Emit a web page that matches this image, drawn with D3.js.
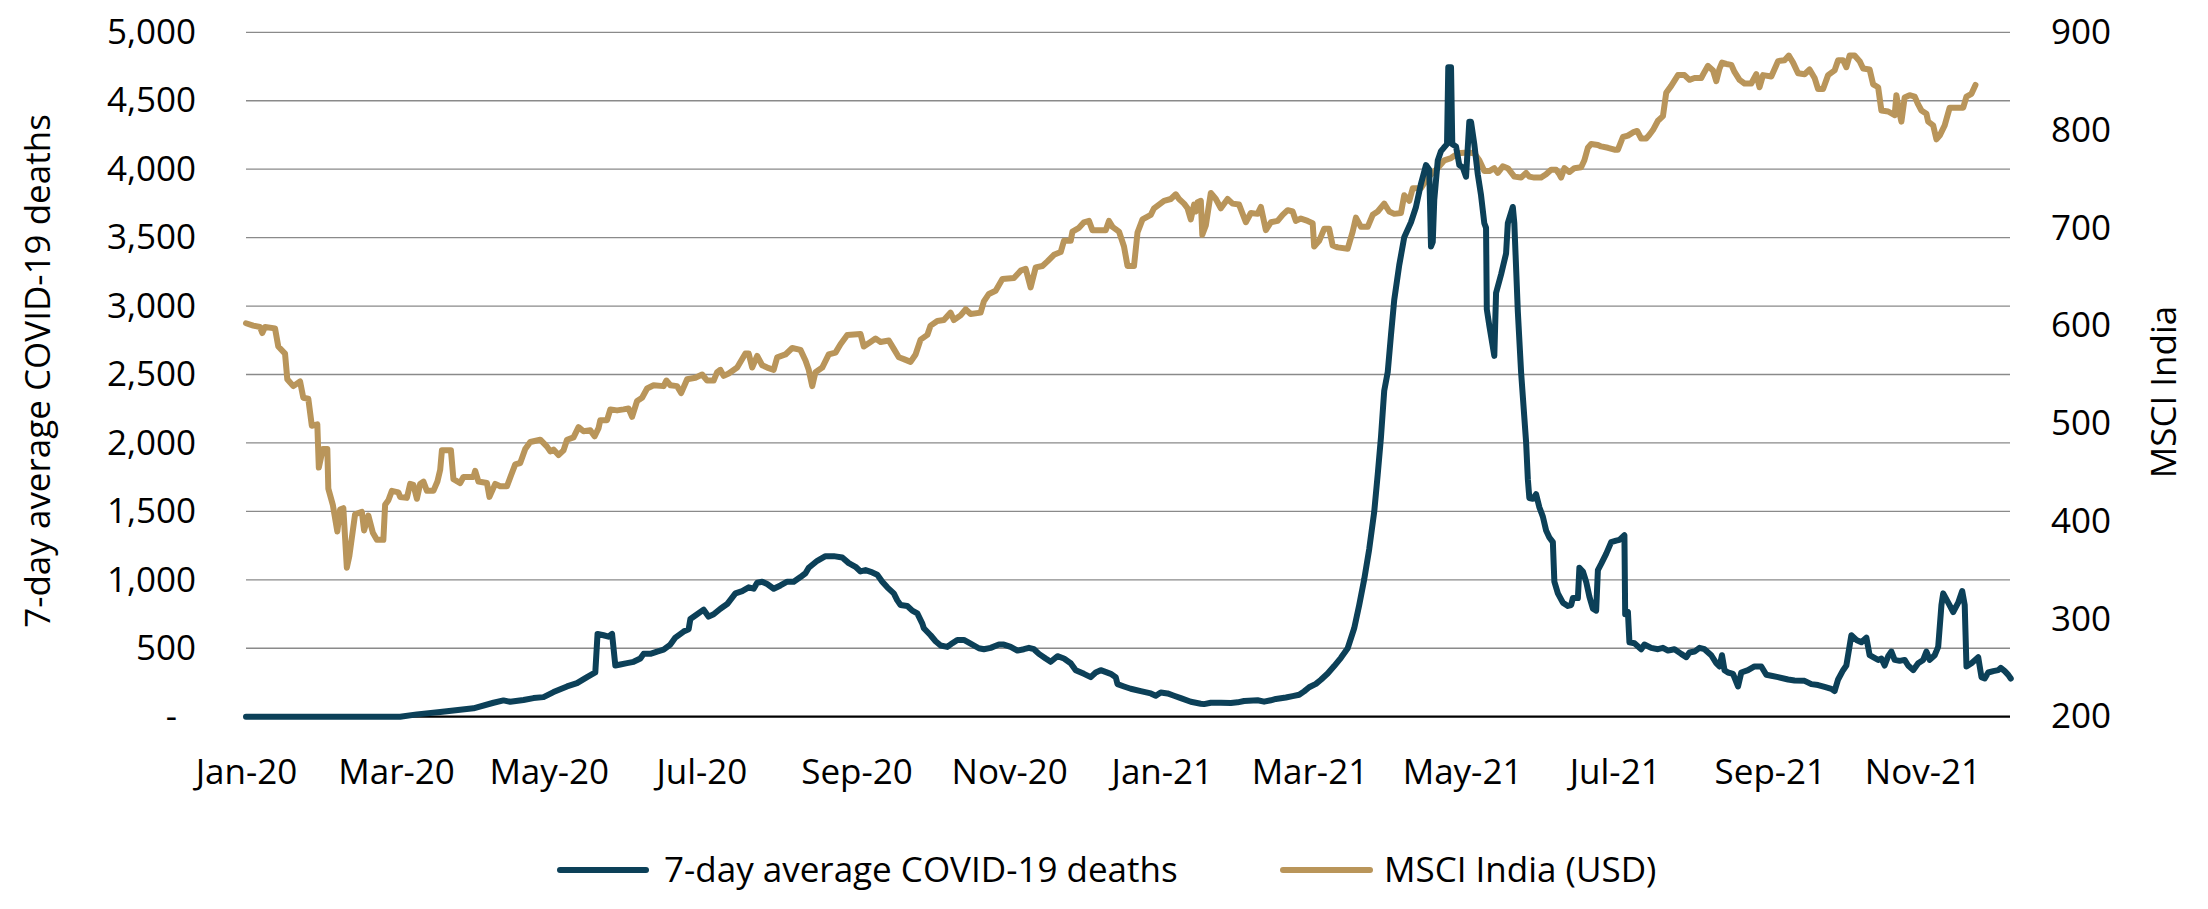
<!DOCTYPE html>
<html>
<head>
<meta charset="utf-8">
<script src="https://cdn.jsdelivr.net/npm/d3@7"></script>
<style>
  html, body { margin: 0; padding: 0; background: #ffffff; }
  svg { display: block; }
  text { font-family: "Open Sans", "Liberation Sans", sans-serif; fill: #000; }
</style>
</head>
<body>
<svg id="chart" width="2208" height="909"></svg>
<script>
// ---------------- DATA ----------------
// x values are days since 1 Jan 2020
const startDateUTC = Date.UTC(2020, 0, 1);
const lastDay = 705;

const leftTicks = [0, 500, 1000, 1500, 2000, 2500, 3000, 3500, 4000, 4500, 5000];
const rightTicks = [200, 300, 400, 500, 600, 700, 800, 900];

const seriesNames = ["7-day average COVID-19 deaths", "MSCI India (USD)"];
const leftAxisTitle = "7-day average COVID-19 deaths";
const rightAxisTitle = "MSCI India";

// 7-day average COVID-19 deaths  [day, value]
const deaths = [
[0,0],[61.6,0],[68.3,17],[77.6,34],[90.9,61],[98.9,102],[102.9,119],[105.6,109],[110.9,122],[114.9,136],
[118.9,143],[122.9,180],[128.3,221],[132.3,245],[136.3,289],[139.6,323],[140.5,605],[142.9,595],[144.9,585],[146.3,605],
[147.6,374],[149.6,381],[152.3,391],[154.9,401],[157.6,425],[158.9,459],[161.6,459],[164.3,476],[166.9,490],[169.6,527],
[171.6,578],[174.9,622],[176.9,639],[177.6,714],[180.3,748],[182.9,782],[184.9,731],[186.9,748],[189.6,789],[192.3,823],
[195.6,901],[198.3,918],[200.9,945],[202.9,935],[204.3,979],[206.3,986],[208.3,969],[210.9,935],[213.6,959],[216.3,986],
[218.9,986],[221.6,1020],[223.6,1048],[224.9,1088],[228.3,1139],[231.6,1173],[234.9,1173],[238.3,1163],[240.9,1122],[243.6,1095],
[245.6,1061],[247.6,1071],[250.3,1054],[252.3,1037],[254.3,986],[256.3,945],[258.9,901],[260.3,850],[261.6,816],[264.3,809],
[266.3,775],[268.3,755],[270.3,680],[270.9,646],[273.6,595],[275.6,551],[277.6,520],[280.3,510],[282.3,537],[284.3,561],
[286.9,561],[289.6,534],[292.9,500],[294.9,493],[297.6,503],[300.9,527],[302.9,527],[305.6,510],[308.3,483],[310.9,493],
[312.9,503],[314.9,493],[316.9,459],[319.6,425],[321.6,401],[324.3,442],[326.9,425],[329.6,391],[331.6,340],[334.9,313],
[337.6,289],[339.6,323],[341.6,340],[345.6,313],[347.6,289],[348.3,238],[350.9,221],[353.6,204],[357.6,187],[361.6,170],
[363.6,153],[365.6,177],[368.3,170],[370.9,153],[373.6,136],[377.6,109],[381.6,95],[382.9,92],[385.6,102],[389.6,102],
[393.6,100],[396.3,105],[398.9,115],[404.3,120],[406.9,110],[409.6,120],[411.6,130],[415.6,140],[418.3,150],[420.9,160],
[422.9,185],[424.9,215],[427.6,240],[429.6,270],[432.3,315],[434.9,370],[437.6,430],[440.3,500],[442.9,646],[444.9,816],
[446.9,1003],[448.9,1224],[450.9,1496],[452.3,1769],[453.6,2041],[454.9,2381],[456.3,2517],[457.6,2789],[458.9,3044],[460.9,3299],
[462.9,3503],[465.6,3612],[467.6,3724],[469.6,3894],[471.6,4030],[472.9,3996],[473.6,3435],[474.3,3469],[474.9,3775],[476.3,4064],
[477.6,4132],[478.7,4156],[480.0,4183],[480.5,4744],[481.6,4744],[482.1,4183],[483.6,4166],[484.9,4030],[486.3,4013],[487.6,3945],
[488.9,4346],[489.6,4346],[490.9,4183],[492.3,3962],[493.6,3809],[494.9,3605],[495.6,3571],[495.9,2976],[496.9,2857],[498.9,2636],
[499.6,3095],[501.6,3231],[503.6,3384],[504.3,3605],[506.3,3724],[506.9,3605],[508.3,2959],[509.6,2517],[511.6,2007],[512.3,1735],
[512.9,1598],[514.3,1592],[515.6,1626],[516.9,1530],[518.3,1462],[519.6,1360],[520.9,1309],[522.3,1275],[522.9,986],[524.3,901],
[526.3,833],[528.3,809],[529.6,816],[530.3,867],[532.3,867],[532.9,1088],[534.3,1061],[535.6,986],[536.9,877],[538.3,789],
[539.6,775],[540.3,1071],[541.6,1116],[543.6,1190],[545.6,1275],[547.6,1286],[548.9,1292],[550.9,1326],[551.2,748],[552.3,765],
[552.9,544],[554.9,537],[557.6,493],[558.9,527],[561.6,503],[564.3,493],[566.3,503],[568.3,483],[570.9,493],[573.6,459],
[575.6,435],[576.9,469],[578.9,476],[580.9,503],[582.9,493],[585.6,449],[587.6,391],[588.9,367],[589.9,449],[590.9,340],
[592.3,323],[594.3,313],[596.3,221],[597.6,323],[600.3,340],[602.9,367],[605.6,367],[607.6,306],[609.6,299],[612.3,289],
[616.3,272],[618.9,265],[622.9,262],[625.6,238],[628.3,231],[630.9,218],[633.6,204],[634.9,187],[636.3,272],[638.3,340],
[639.6,374],[641.6,595],[643.6,561],[645.6,544],[647.6,578],[648.9,449],[650.3,435],[652.3,415],[653.6,425],[654.9,374],
[656.3,442],[657.6,476],[658.9,415],[660.9,408],[662.9,415],[664.3,374],[666.3,340],[668.3,391],[670.3,415],[671.6,476],
[672.9,415],[674.9,449],[676.3,510],[677.6,816],[678.3,901],[680.3,833],[682.3,765],[684.3,833],[685.9,918],[686.9,816],
[687.6,367],[689.6,391],[692.3,435],[693.6,289],[694.9,279],[696.3,323],[698.3,333],[700.3,340],[701.3,357],[702.9,333],
[704.3,306],[705.3,279]
];

// MSCI India (USD)  [day, value]
const msci = [
[0,602.4],[2.9,600.0],[5.6,598.6],[6.5,592.4],[7.6,598.6],[11.6,597.2],[12.9,578.6],[15.6,571.4],[16.5,545.2],[18.9,538.1],
[21.6,542.9],[22.9,526.2],[24.9,525.2],[26.3,497.6],[28.5,499.0],[29.1,454.8],[30.7,473.8],[32.5,473.8],[32.9,433.3],[34.7,416.7],
[36.5,389.5],[37.6,411.9],[38.9,413.3],[40.3,352.4],[41.3,364.3],[43.6,407.1],[46.3,409.5],[47.2,390.5],[48.9,405.7],[50.7,388.1],
[52.3,381.0],[54.9,381.0],[55.6,416.7],[56.9,421.4],[58.3,431.0],[60.9,429.5],[61.6,424.8],[64.3,423.8],[65.6,438.1],[66.9,437.1],
[68.3,422.9],[69.6,438.1],[70.9,440.5],[72.3,431.0],[74.9,431.0],[76.5,440.5],[77.6,452.4],[78.3,472.4],[81.9,472.4],[82.9,442.9],
[85.6,439.0],[86.9,445.2],[90.9,445.2],[91.6,451.4],[92.9,440.5],[96.3,439.0],[97.3,424.8],[99.6,438.1],[101.6,435.7],[104.3,435.7],
[105.9,446.7],[107.6,458.1],[109.6,459.5],[111.6,473.8],[113.6,481.0],[117.6,483.3],[120.3,476.2],[121.6,471.4],[122.9,473.3],[124.9,467.6],
[126.9,472.4],[128.3,483.3],[130.9,485.7],[132.9,496.2],[134.9,491.9],[137.6,492.9],[139.3,486.7],[140.9,495.2],[141.6,503.3],[144.3,503.3],
[145.6,514.3],[148.3,513.3],[150.9,514.3],[152.9,515.2],[154.3,506.7],[156.3,522.9],[158.3,526.2],[160.3,535.7],[162.9,539.0],[166.9,538.1],
[168.0,543.8],[169.6,539.0],[172.3,538.1],[173.9,531.0],[176.3,545.2],[179.6,546.7],[182.3,550.0],[184.3,543.8],[186.9,543.8],[188.3,552.4],
[189.6,554.8],[190.9,548.6],[192.9,551.0],[196.3,557.1],[199.6,571.4],[200.9,571.4],[202.3,557.1],[204.3,569.0],[206.3,559.5],[208.3,557.1],
[210.9,554.8],[212.3,567.6],[215.6,570.5],[218.3,577.1],[221.6,575.2],[223.6,564.3],[224.9,554.8],[226.3,538.1],[227.6,552.4],[230.3,557.1],
[232.9,570.5],[235.6,572.4],[237.6,581.0],[240.3,590.5],[245.6,591.4],[246.9,578.6],[249.6,583.3],[251.6,586.7],[253.6,583.3],[256.9,584.8],
[258.9,576.2],[260.9,567.6],[262.9,565.7],[265.6,562.9],[267.6,570.5],[269.6,585.7],[272.3,590.5],[273.6,600.0],[276.3,604.8],[278.9,605.7],
[281.6,613.3],[282.9,605.7],[285.6,610.5],[287.6,616.7],[289.6,611.9],[293.6,613.3],[294.9,624.8],[296.9,632.4],[299.6,635.7],[302.3,647.6],
[306.9,648.6],[309.6,656.2],[311.6,658.1],[313.6,639.1],[315.6,659.5],[318.3,661.0],[320.3,665.7],[322.9,672.4],[325.6,675.2],[326.9,686.7],
[329.6,686.7],[330.3,696.2],[332.9,700.0],[334.9,705.7],[336.9,707.1],[338.3,697.6],[343.6,697.6],[344.9,707.1],[346.3,701.0],[348.9,696.2],
[350.9,681.0],[352.3,661.0],[354.9,661.0],[356.3,695.2],[358.3,708.6],[361.6,713.3],[362.9,720.0],[366.9,727.6],[369.6,729.5],[371.6,734.3],
[372.9,729.5],[374.9,724.8],[376.3,720.0],[377.6,708.6],[378.9,723.8],[379.6,716.7],[380.3,726.2],[381.6,727.6],[382.2,692.9],[383.6,702.4],
[385.6,735.7],[387.6,729.5],[389.6,720.0],[392.3,729.5],[394.3,724.8],[396.9,723.8],[399.6,705.7],[401.6,715.2],[404.3,714.3],[405.6,721.4],
[407.6,697.6],[409.6,705.7],[412.3,707.1],[414.3,713.3],[416.3,718.1],[418.3,716.7],[419.6,707.1],[421.6,709.5],[424.3,707.1],[426.3,704.8],
[426.9,681.0],[428.9,686.7],[430.9,699.0],[432.9,699.0],[434.3,681.9],[436.3,680.0],[440.3,678.6],[442.3,696.2],[443.6,710.5],[445.6,701.0],
[448.3,701.0],[450.3,713.3],[452.3,716.7],[454.9,724.8],[456.9,716.7],[458.9,714.3],[461.6,715.2],[462.9,733.3],[464.9,727.6],[466.3,740.5],
[469.6,740.5],[471.6,748.6],[473.6,754.8],[476.3,761.0],[478.9,769.1],[481.6,771.4],[484.3,776.2],[488.3,777.1],[490.9,776.2],[492.9,769.1],
[494.9,758.1],[496.9,758.1],[498.9,761.0],[500.3,756.2],[502.3,762.9],[504.3,761.0],[506.9,752.4],[509.6,751.4],[511.6,756.2],[512.9,752.4],
[514.9,751.4],[517.6,751.4],[519.6,754.8],[521.6,759.5],[523.6,759.5],[524.9,754.8],[525.6,751.4],[526.9,761.0],[528.9,757.1],[530.9,761.0],
[533.6,761.9],[534.9,769.1],[536.3,781.9],[537.6,785.7],[540.3,784.8],[541.6,783.3],[544.3,781.9],[546.9,780.0],[548.3,780.0],[550.3,792.9],
[552.3,794.3],[554.3,797.6],[556.0,799.1],[557.6,791.4],[559.6,791.4],[560.9,795.2],[562.3,800.0],[564.3,809.5],[566.3,814.3],[567.6,838.1],
[569.6,845.2],[572.3,856.2],[574.9,856.2],[576.9,851.4],[578.9,853.3],[581.6,853.3],[582.9,859.5],[584.3,865.7],[586.3,861.0],[587.6,850.0],
[588.9,862.9],[589.9,869.0],[591.6,867.6],[593.6,866.7],[594.9,859.5],[596.9,851.4],[598.9,847.6],[601.6,847.6],[603.6,857.1],[604.9,843.8],
[606.3,856.2],[609.6,854.8],[612.3,870.5],[614.9,871.4],[616.6,876.2],[618.3,869.0],[620.3,858.1],[622.9,857.1],[624.9,861.9],[626.9,853.3],
[628.3,841.9],[630.3,841.9],[632.3,856.2],[634.9,861.0],[636.3,871.4],[638.3,871.4],[639.6,864.3],[640.9,876.2],[642.9,876.2],[644.9,870.5],
[646.3,862.9],[648.9,861.9],[650.3,846.7],[652.3,843.8],[653.6,820.0],[656.3,819.0],[658.9,815.2],[659.6,835.7],[660.9,816.7],[661.6,808.6],
[662.9,833.3],[664.9,835.7],[666.9,834.3],[668.3,826.2],[669.6,820.0],[671.6,816.7],[672.3,808.6],[674.3,804.8],[675.6,790.5],[676.9,794.3],
[678.9,804.8],[680.9,822.9],[682.9,822.9],[686.3,822.9],[687.6,834.3],[689.6,837.1],[691.2,846.2]
];

// ---------------- CHART ----------------
const DAY = 864e5;
const toDate = d => new Date(startDateUTC + d * DAY);

const svg = d3.select("#chart");
const plot = { left: 246, right: 2010, top: 32.3, bottom: 716.7 };
const navy = "#0c4058", gold = "#b9955a";
const fontSize = 35;

const x = d3.scaleUtc()
  .domain([toDate(0), toDate(lastDay)])
  .range([plot.left, plot.right]);
const yL = d3.scaleLinear().domain([0, 5000]).range([plot.bottom, plot.top]);
const yR = d3.scaleLinear().domain([200, 900]).range([plot.bottom, plot.top]);

// gridlines
svg.append("g").selectAll("line")
  .data(leftTicks.filter(d => d !== 0))
  .join("line")
  .attr("x1", plot.left).attr("x2", plot.right)
  .attr("y1", d => yL(d)).attr("y2", d => yL(d))
  .attr("stroke", "#8a8a8a").attr("stroke-width", 1.3);

// baseline
svg.append("line")
  .attr("x1", plot.left).attr("x2", plot.right)
  .attr("y1", yL(0)).attr("y2", yL(0))
  .attr("stroke", "#000").attr("stroke-width", 2.2);

// left axis
const gL = svg.append("g")
  .attr("transform", `translate(${plot.left},0)`)
  .call(d3.axisLeft(yL).tickValues(leftTicks).tickSize(0).tickPadding(50)
    .tickFormat(d => d === 0 ? "-" : d3.format(",")(d)));
gL.select(".domain").remove();
gL.selectAll("text").attr("font-size", fontSize).attr("font-family", null).attr("fill", "#000")
  .filter(d => d === 0).attr("x", -69);

// right axis
const gR = svg.append("g")
  .attr("transform", `translate(${plot.right},0)`)
  .call(d3.axisRight(yR).tickValues(rightTicks).tickSize(0).tickPadding(41));
gR.select(".domain").remove();
gR.selectAll("text").attr("font-size", fontSize).attr("font-family", null).attr("fill", "#000");

// bottom axis
const gX = svg.append("g")
  .attr("transform", `translate(0,${plot.bottom})`)
  .call(d3.axisBottom(x).ticks(d3.utcMonth.every(2)).tickSize(0).tickPadding(42.5)
    .tickFormat(d3.utcFormat("%b-%y")));
gX.select(".domain").remove();
gX.selectAll("text").attr("font-size", fontSize).attr("font-family", null).attr("fill", "#000");

// axis titles
svg.append("text")
  .attr("transform", `translate(50,371) rotate(-90)`)
  .attr("text-anchor", "middle").attr("font-size", fontSize)
  .text(leftAxisTitle);
svg.append("text")
  .attr("transform", `translate(2176,392) rotate(-90)`)
  .attr("text-anchor", "middle").attr("font-size", fontSize)
  .text(rightAxisTitle);

// lines
const lineL = d3.line().x(d => x(toDate(d[0]))).y(d => yL(d[1]));
const lineR = d3.line().x(d => x(toDate(d[0]))).y(d => yR(d[1]));

svg.append("path").datum(msci)
  .attr("d", lineR).attr("fill", "none").attr("stroke", gold)
  .attr("stroke-width", 6).attr("stroke-linejoin", "round").attr("stroke-linecap", "round");
svg.append("path").datum(deaths)
  .attr("d", lineL).attr("fill", "none").attr("stroke", navy)
  .attr("stroke-width", 6).attr("stroke-linejoin", "round").attr("stroke-linecap", "round");

// legend
const legendItems = [
  { name: seriesNames[0], color: navy, x1: 560, x2: 646, tx: 664 },
  { name: seriesNames[1], color: gold, x1: 1283, x2: 1370, tx: 1384 }
];
const lg = svg.append("g");
legendItems.forEach(it => {
  lg.append("line").attr("x1", it.x1).attr("x2", it.x2).attr("y1", 870).attr("y2", 870)
    .attr("stroke", it.color).attr("stroke-width", 6).attr("stroke-linecap", "round");
  lg.append("text").attr("x", it.tx).attr("y", 870).attr("dy", "0.35em")
    .attr("font-size", fontSize).text(it.name);
});
</script>
</body>
</html>
